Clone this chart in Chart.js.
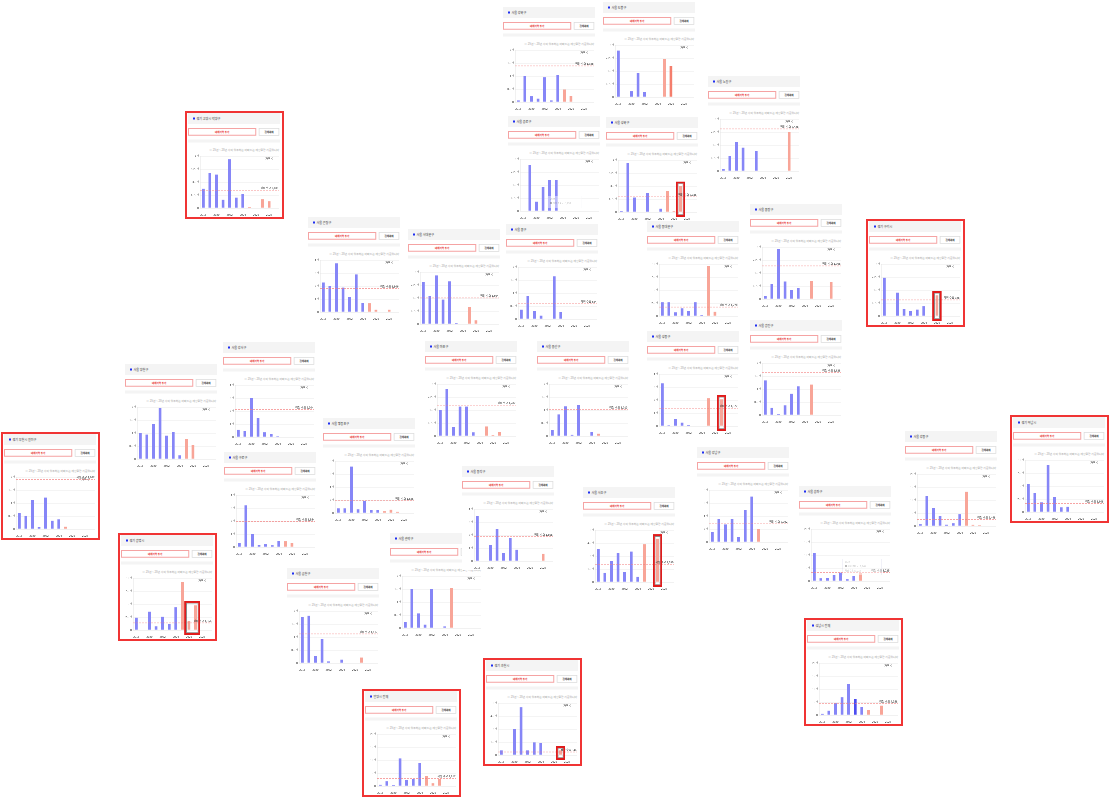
<!DOCTYPE html>
<html lang="ko">
<head>
<meta charset="utf-8">
<title>지역별 입주 물량</title>
<script src="https://cdn.jsdelivr.net/npm/chart.js@4.4.1/dist/chart.umd.min.js"></script>
<style>
  html, body { margin: 0; padding: 0; background: #fff; }
  body { width: 1109px; height: 797px; overflow: hidden; position: relative;
         font-family: "Noto Sans CJK KR", "Noto Sans", sans-serif; }
  .frame { position: absolute; box-sizing: border-box; border: 2px solid #f03434; width: 99px; height: 108px; }
  .card { position: absolute; width: 368px; height: 416px; background: #fff;
          transform-origin: 0 0; transform: scale(0.25); }
  .head { position: absolute; left: 0; top: 0; width: 368px; height: 44px; background: #f4f4f4;
          box-sizing: border-box; padding-left: 34px; font-size: 12px; line-height: 44px; color: #333; }
  .head::before { content: ""; position: absolute; left: 20px; top: 18px; width: 8px; height: 8px; background: #1f2ff0; }
  .add { position: absolute; left: 0; top: 60px; width: 273px; height: 31px; box-sizing: border-box;
         border: 4px solid #f5a3a3; color: #e52222; font-size: 10px; font-weight: bold;
         text-align: center; line-height: 23px; }
  .clear { position: absolute; left: 283px; top: 60px; width: 82px; height: 31px; box-sizing: border-box;
           border: 3px solid #dcdcdc; color: #333; font-size: 10px; font-weight: bold;
           text-align: center; line-height: 25px; }
  .sep { position: absolute; left: 0; top: 106px; width: 368px; height: 12px; background: #f4f4f4; }
  .note { position: absolute; left: 20px; right: 4px; top: 139px; font-size: 11px; line-height: 14px;
          color: #9a9a9a; text-align: right; white-space: nowrap; }
  .card canvas { position: absolute; left: 0; top: 158px; }
</style>
</head>
<body>
<script>
// years on the x axis; 2025 onward are planned move-ins (salmon bars)
const years = ["2018", "2019", "2020", "2021", "2022", "2023", "2024", "2025", "2026", "2027", "2028", "2029"];
const tickYears = ["2018", "2020", "2022", "2024", "2026", "2028"];
const planFrom = "2025";

// households per year
const gangbuk      = [60, 990, 220, 130, 950, 60, 1030, 480, 230, 0, 0, 0];
const dobong       = [2680, 0, 330, 1380, 290, 0, 0, 2200, 1800, 0, 0, 0];
const nowon        = [100, 870, 1680, 1350, 0, 1160, 0, 0, 0, 0, 2260, 0];
const goyangDy     = [2600, 4700, 4500, 1120, 6550, 1400, 1880, 100, 0, 1170, 900, 0];
const jongno       = [0, 2650, 540, 1400, 1790, 1790, 0, 0, 0, 0, 0, 0];
const seongbuk     = [140, 6560, 1950, 0, 2580, 0, 450, 2850, 100, 3500, 0, 0];
const eunpyeong    = [2270, 2010, 3740, 1880, 1140, 2890, 700, 670, 180, 0, 180, 0];
const jungnang     = [160, 880, 2900, 1010, 530, 620, 0, 1050, 0, 0, 990, 0];
const dongdaemun   = [2630, 2630, 700, 1470, 960, 2630, 190, 9600, 830, 0, 0, 0];
const junggu       = [360, 880, 310, 130, 0, 1640, 260, 0, 0, 0, 0, 0];
const seodaemun    = [2420, 1610, 2800, 1410, 2460, 60, 0, 970, 210, 0, 0, 0];
const guri         = [2210, 0, 1350, 400, 290, 370, 560, 0, 1190, 0, 0, 0];
const gwangjin     = [1330, 280, 40, 370, 820, 1100, 0, 1170, 0, 0, 0, 0];
const seongdong    = [3280, 50, 540, 260, 80, 0, 0, 2130, 0, 2050, 0, 0];
const gangseo      = [560, 460, 3000, 1480, 360, 250, 50, 0, 0, 0, 0, 0];
const yangcheon    = [990, 940, 1350, 1970, 900, 1040, 140, 770, 540, 0, 0, 0];
const mapo         = [1500, 2710, 530, 1700, 1700, 210, 0, 550, 60, 230, 0, 0];
const yongsan      = [230, 830, 1140, 50, 1190, 0, 160, 90, 0, 0, 0, 0];
const yeongdeungpo = [710, 710, 7140, 560, 1840, 460, 460, 260, 510, 200, 0, 0];
const bucheonWm    = [620, 510, 1110, 80, 1210, 320, 370, 90, 0, 0, 0, 0];
const hanam        = [5350, 3630, 1850, 9040, 2930, 890, 1020, 0, 0, 0, 0, 0];
const gangdong     = [650, 11500, 7000, 3900, 520, 1030, 4500, 13200, 500, 260, 0, 0];
const gangnam      = [1530, 3570, 2700, 3520, 770, 4950, 6990, 1990, 0, 0, 0, 0];
const guro         = [290, 3200, 1000, 160, 210, 130, 470, 440, 290, 0, 0, 0];
const gwanak       = [230, 1510, 560, 130, 1510, 0, 60, 1530, 0, 0, 0, 0];
const dongjak      = [3440, 0, 1230, 2440, 620, 1770, 870, 0, 0, 0, 560, 0];
const songpa       = [10700, 1030, 1160, 2320, 3230, 650, 1940, 2970, 0, 0, 0, 0];
const seocho       = [3820, 1070, 2440, 3360, 1150, 3510, 610, 4350, 0, 5000, 0, 0];
const gwangmyeong  = [2370, 0, 3530, 700, 2560, 1150, 4360, 9230, 1730, 4740, 0, 0];
const geumcheon    = [1770, 1820, 260, 920, 60, 0, 130, 0, 0, 210, 0, 0];
const seongnam     = [500, 1670, 4500, 6800, 11900, 6150, 3080, 1920, 0, 3600, 0, 0];
const gwacheon     = [530, 0, 2980, 5500, 530, 1450, 1370, 0, 0, 530, 0, 0];
const anyang       = [500, 1800, 380, 10600, 2300, 2700, 8850, 3850, 1030, 2700, 0, 0];

const regionNames = [
  "서울 강북구", "서울 도봉구", "서울 노원구", "경기 고양시 덕양구", "서울 종로구", "서울 성북구",
  "서울 은평구", "서울 중랑구", "서울 동대문구", "서울 중구", "서울 서대문구", "경기 구리시",
  "서울 광진구", "서울 성동구", "서울 강서구", "서울 양천구", "서울 마포구", "서울 용산구",
  "서울 영등포구", "경기 부천시 원미구", "경기 하남시", "서울 강동구", "서울 강남구", "서울 구로구",
  "서울 관악구", "서울 동작구", "서울 송파구", "서울 서초구", "경기 광명시", "서울 금천구",
  "성남시 전체", "경기 과천시", "안양시 전체"
];
const seriesList = [
  gangbuk, dobong, nowon, goyangDy, jongno, seongbuk,
  eunpyeong, jungnang, dongdaemun, junggu, seodaemun, guri,
  gwangjin, seongdong, gangseo, yangcheon, mapo, yongsan,
  yeongdeungpo, bucheonWm, hanam, gangdong, gangnam, guro,
  gwanak, dongjak, songpa, seocho, gwangmyeong, geumcheon,
  seongnam, gwacheon, anyang
];
// "적정 수요" (adequate demand) line per card, null where none is shown
const demandList = [
  1388, null, 2428, 2401, null, 2036,
  1806, 1908, 1720, 584, 1504, 928,
  1628, 1372, 2104, null, 1782, 1013,
  1886, 1907, 1608, 2448, 2792, 1954,
  null, 1868, 3225, 2050, 1354, 1117,
  4358, 344, 2917
];
const axisMaxList = [
  2000, 3000, 3000, 7000, 3000, 7000,
  4000, 3000, 10000, 2000, 3000, 3000,
  2000, 4000, 4000, 2000, 3000, 2000,
  8000, 2000, 10000, 20000, 8000, 4000,
  2000, 4000, 20000, 6000, 10000, 2000,
  20000, 6000, 20000
];

// card placement on the page (left/top of the card, px) and decorations
const layout = [
  { x: 503, y: 7 }, { x: 603, y: 2, dark: 8 }, { x: 708, y: 76 },
  { x: 188, y: 113, framed: true }, { x: 508, y: 116, tip: { idx: 5, dx: -33, dy: -60, w: 136, h: 48 } },
  { x: 606, y: 117, hi: [9, 9] },
  { x: 308, y: 217 }, { x: 750, y: 204 }, { x: 647, y: 221 }, { x: 506, y: 224 }, { x: 408, y: 229 },
  { x: 869, y: 221, framed: true, hi: [8, 8] },
  { x: 750, y: 320 }, { x: 647, y: 331, hi: [9, 9] }, { x: 223, y: 342 }, { x: 125, y: 364 },
  { x: 425, y: 341 }, { x: 537, y: 341 },
  { x: 323, y: 418 }, { x: 4, y: 434, framed: true }, { x: 1013, y: 417, framed: true },
  { x: 905, y: 431 }, { x: 697, y: 447 }, { x: 224, y: 452 },
  { x: 390, y: 533 }, { x: 462, y: 466 }, { x: 799, y: 486, tip: { idx: 6, dx: -44, dy: -88, w: 156, h: 64 } },
  { x: 583, y: 487, hi: [9, 9] }, { x: 121, y: 535, framed: true, hi: [8, 9] }, { x: 287, y: 568 },
  { x: 807, y: 620, framed: true, dark: 5 }, { x: 486, y: 660, framed: true, hi: [9, 9] },
  { x: 365, y: 691, framed: true }
];

const FONT = '"Noto Sans CJK KR", "Noto Sans", sans-serif';
const BLUE = "#8686f7", BLUE_DARK = "#4d4df0";
const SALMON = "#f8a598", SALMON_DARK = "#f47e6c";

Chart.defaults.font.family = FONT;
Chart.defaults.color = "#333";

const overlay = {
  id: "overlay",
  afterDatasetsDraw(chart, _args, opts) {
    const { ctx, chartArea: a, scales } = chart;
    const xs = scales.x, ys = scales.y;
    ctx.save();
    ctx.fillStyle = "#222";
    ctx.font = "11px " + FONT;
    ctx.textAlign = "right";
    ctx.textBaseline = "top";
    ctx.fillText("가구 수", a.right - 22, a.top + 5);

    if (opts.demand != null) {
      const py = ys.getPixelForValue(opts.demand);
      ctx.strokeStyle = "rgba(244,125,125,0.7)";
      ctx.lineWidth = 3;
      ctx.setLineDash([7, 5]);
      ctx.beginPath();
      ctx.moveTo(a.left, py);
      ctx.lineTo(a.right, py);
      ctx.stroke();
      ctx.setLineDash([]);
      ctx.textBaseline = "bottom";
      ctx.fillText("적정 수요 " + opts.demand.toLocaleString("en-US"), a.right - 2, py - 3);
    }

    if (opts.hi) {
      const i0 = opts.hi[0], i1 = opts.hi[1];
      const meta = chart.getDatasetMeta(0);
      let top = a.bottom;
      for (let i = i0; i <= i1; i++) top = Math.min(top, meta.data[i].y);
      const x0 = xs.getPixelForValue(i0) - 15, x1 = xs.getPixelForValue(i1) + 15;
      const y0 = top - 14, y1 = a.bottom + 16;
      ctx.strokeStyle = "rgba(90,90,90,0.7)";
      ctx.lineWidth = 3;
      ctx.strokeRect(x0 + 5, y0 + 5, x1 - x0 - 10, y1 - y0 - 10);
      ctx.strokeStyle = "#e01b1b";
      ctx.lineWidth = 7;
      ctx.strokeRect(x0, y0, x1 - x0, y1 - y0);
    }

    if (opts.tip) {
      const t = opts.tip;
      const bx = xs.getPixelForValue(t.idx) + t.dx, by = a.bottom + t.dy;
      const lines = [years[t.idx], "■ " + opts.name + " : " + opts.values[t.idx].toLocaleString("en-US")];
      if (opts.demand != null) lines.push("적정 수요 : " + opts.demand.toLocaleString("en-US"));
      ctx.globalAlpha = 0.45;
      ctx.fillStyle = "#fff";
      ctx.fillRect(bx, by, t.w, t.h);
      ctx.strokeStyle = "#b8b8dc";
      ctx.lineWidth = 2;
      ctx.strokeRect(bx, by, t.w, t.h);
      ctx.fillStyle = "#666";
      ctx.textAlign = "left";
      ctx.textBaseline = "top";
      ctx.font = "9px " + FONT;
      lines.forEach((ln, k) => ctx.fillText(ln, bx + 8, by + 6 + k * 18));
    }
    ctx.restore();
  }
};

function makeCard(i) {
  const pos = layout[i];
  if (pos.framed) {
    const fr = document.createElement("div");
    fr.className = "frame";
    fr.style.left = (pos.x - 3.5) + "px";
    fr.style.top = (pos.y - 2) + "px";
    fr.style.zIndex = i + 1;
    document.body.appendChild(fr);
  }
  const card = document.createElement("div");
  card.className = "card";
  card.style.left = pos.x + "px";
  card.style.top = pos.y + "px";
  card.style.zIndex = i + 1;
  card.innerHTML =
    '<div class="head">' + regionNames[i] + '</div>' +
    '<div class="add">대체지역 추가</div><div class="clear">전체해제</div>' +
    '<div class="sep"></div>' +
    '<div class="note">※ 25년 ~ 28년 사이 입주하는 아파트는 예정물량 기준입니다</div>';
  const canvas = document.createElement("canvas");
  canvas.width = 368;
  canvas.height = 258;
  card.appendChild(canvas);
  document.body.appendChild(card);

  const values = seriesList[i];
  const max = axisMaxList[i];
  const colors = years.map((yr, k) => {
    const plan = yr >= planFrom;
    if (pos.dark === k) return plan ? SALMON_DARK : BLUE_DARK;
    return plan ? SALMON : BLUE;
  });

  new Chart(canvas, {
    type: "bar",
    data: {
      labels: years,
      datasets: [{ data: values, backgroundColor: colors, barPercentage: 0.42, categoryPercentage: 1 }]
    },
    options: {
      responsive: false,
      animation: false,
      devicePixelRatio: 1,
      layout: { padding: { top: 14, right: 4, left: 0, bottom: 0 } },
      plugins: {
        legend: { display: false },
        tooltip: { enabled: false },
        overlay: { demand: demandList[i], hi: pos.hi, tip: pos.tip, name: regionNames[i], values: values }
      },
      scales: {
        x: {
          grid: { display: false },
          border: { display: true, color: "#e2e2e2", width: 3 },
          ticks: {
            autoSkip: false, maxRotation: 0, padding: 12, color: "#222",
            font: { size: 11 },
            callback: (v, k) => (tickYears.includes(years[k]) ? years[k] : "")
          },
          afterFit: (s) => { s.height = 36; }
        },
        y: {
          min: 0, max: max,
          ticks: {
            stepSize: max / 4, padding: 5, color: "#222",
            font: { size: 11 },
            callback: (v) => (v === 0 ? "0" : v / 1000 + "천")
          },
          grid: { color: "#e8e8e8", lineWidth: 3, drawTicks: false },
          border: { display: true, color: "#e2e2e2", width: 3 },
          afterFit: (s) => { s.width = 48; }
        }
      }
    },
    plugins: [overlay]
  });
}

for (let i = 0; i < regionNames.length; i++) makeCard(i);
</script>
</body>
</html>
